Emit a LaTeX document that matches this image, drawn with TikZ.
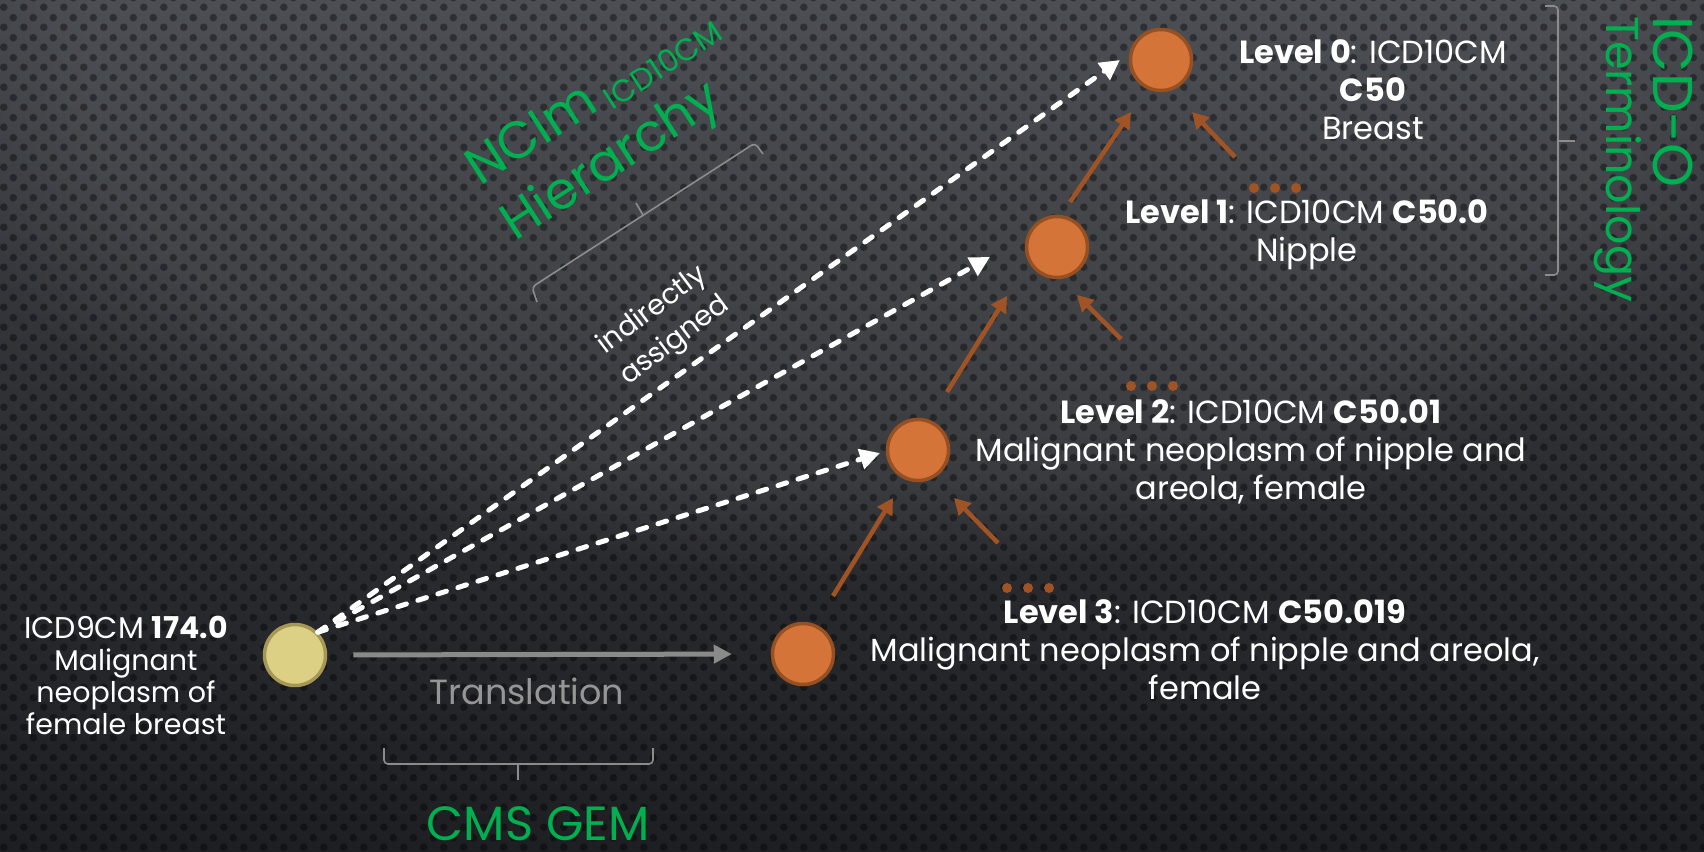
\documentclass[tikz,border=0pt]{standalone}
\usepackage{fontspec}
\setmainfont{Poppins}
\usetikzlibrary{arrows.meta,patterns,fadings}
\definecolor{bgtop}{RGB}{62,65,70}
\definecolor{bgbot}{RGB}{30,31,34}
\definecolor{orfill}{RGB}{212,116,56}
\definecolor{ordraw}{RGB}{150,80,34}
\definecolor{brarrow}{RGB}{160,84,38}
\definecolor{yelfill}{RGB}{220,208,132}
\definecolor{yeldraw}{RGB}{165,151,86}
\definecolor{gmgreen}{RGB}{0,176,80}
\definecolor{arrgray}{RGB}{138,138,138}
\definecolor{brgray}{RGB}{140,140,140}
\definecolor{txtgray}{RGB}{150,150,150}
\pgfdeclarepatternformonly{holes}{\pgfqpoint{0pt}{0pt}}{\pgfqpoint{20pt}{20pt}}{\pgfqpoint{20pt}{20pt}}{%
  \pgfpathcircle{\pgfqpoint{5pt}{5pt}}{4pt}%
  \pgfpathcircle{\pgfqpoint{15pt}{15pt}}{4pt}%
  \pgfusepath{fill}}
\begin{document}
\begin{tikzpicture}[x=1pt,y=-1pt,
  concept/.style={circle, fill=orfill, draw=ordraw, line width=3.5pt, minimum size=61pt, inner sep=0pt},
  source/.style={circle, fill=yelfill, draw=yeldraw, line width=3.5pt, minimum size=61pt, inner sep=0pt},
  lbl/.style={text=white, align=center, inner sep=0pt, font=\fontsize{32}{38}\selectfont},
  brownarrow/.style={draw=brarrow, line width=4.5pt, -{Triangle[length=16pt,width=17pt]}},
  dasharrow/.style={draw=white, line width=5pt, dash pattern=on 9pt off 12pt, line cap=round, -{Triangle[length=20pt,width=20pt,fill=white]}},
  grayarrow/.style={draw=arrgray, line width=5pt, -{Triangle[length=18pt,width=18pt]}},
  bracket/.style={draw=brgray, line width=1.6pt, rounded corners=4pt},
  greentxt/.style={text=gmgreen, inner sep=0pt},
  dotmark/.style={fill=brarrow}
]
% background
\useasboundingbox (0,0) rectangle (1704,851);
\shade[top color=bgtop, bottom color=bgbot] (0,0) rectangle (1704,851);
\fill[white, fill opacity=0.07, path fading=circle with fuzzy edge 20 percent] (850,60) ellipse [x radius=950, y radius=520];
\fill[pattern=holes, pattern color=black, fill opacity=0.38] (0,0) rectangle (1704,851);

% concept nodes
\node[source] (Y) at (295,655) {};
\node[concept] (L3) at (803,654) {};
\node[concept] (L2) at (918,450) {};
\node[concept] (L1) at (1057,247) {};
\node[concept] (L0) at (1161,60) {};

% dots (other children)
\coordinate (d1) at (1275,188);
\coordinate (d2) at (1152,386);
\coordinate (d3) at (1028,588);
\foreach \c in {d1,d2,d3}{
  \foreach \dx in {-21,0,21}{
    \fill[dotmark] ([shift={(\dx,0)}]\c) circle (5pt);
  }
}

% labels
\node[lbl, anchor=north] (T0) at (1373,39) {\textbf{Level 0}: ICD10CM\\\textbf{C50}\\Breast};
\node[lbl, anchor=north] (T1) at (1307,199) {\textbf{Level 1}: ICD10CM \textbf{C50.0}\\Nipple};
\node[lbl, anchor=north] (T2) at (1251,399) {\textbf{Level 2}: ICD10CM \textbf{C50.01}\\Malignant neoplasm of nipple and\\areola, female};
\node[lbl, anchor=north] (T3) at (1205,599) {\textbf{Level 3}: ICD10CM \textbf{C50.019}\\Malignant neoplasm of nipple and areola,\\female};
\node[lbl, anchor=north, font=\fontsize{28.5}{32}\selectfont] (TY) at (126,616) {{\fontsize{30}{32}\selectfont ICD9CM \textbf{174.0}}\\Malignant\\neoplasm of\\female breast};

% hierarchy arrows
\draw[brownarrow] ([shift={(30,-58)}]L3.center) -- ([shift={(-25,48)}]L2.center);
\draw[brownarrow] ([shift={(-30,-45)}]d3) -- ([shift={(36,48)}]L2.center);
\draw[brownarrow] ([shift={(29,-58)}]L2.center) -- ([shift={(-50,49)}]L1.center);
\draw[brownarrow] ([shift={(-31,-47)}]d2) -- ([shift={(20,48)}]L1.center);
\draw[brownarrow] ([shift={(13,-45)}]L1.center) -- ([shift={(-30,52)}]L0.center);
\draw[brownarrow] ([shift={(-40,-31)}]d1) -- ([shift={(31,52)}]L0.center);

% indirect assignment arrows
\coordinate (t0) at ([shift={(-41,0)}]L0.center);
\coordinate (t1) at ([shift={(-67,10)}]L1.center);
\coordinate (t2) at ([shift={(-38,3)}]L2.center);
\draw[dasharrow] (Y.north east) -- (t0);
\draw[dasharrow] (Y.north east) -- (t1);
\draw[dasharrow] (Y.north east) -- (t2);

% translation
\draw[grayarrow, shorten <=26pt, shorten >=39pt] (Y.east) -- (L3.west);
\node[text=txtgray, inner sep=0pt, font=\fontsize{35}{40}\selectfont] (TR) at (527,691) {Translation};

% CMS GEM bracket
\draw[bracket] (384,748) -- (384,764) -- (653,764) -- (653,748);
\draw[draw=brgray, line width=1.6pt] (518,764) -- (518,780);
\node[greentxt, anchor=base, font=\fontsize{48}{52}\selectfont] (CMS) at (538,840) {CMS GEM};

% ICD-O bracket
\draw[bracket] (1545,6) -- (1558,6) -- (1558,275) -- (1545,275);
\draw[draw=brgray, line width=1.6pt] (1558,141) -- (1575,141);
\node[greentxt, rotate=-90, anchor=north west, align=left, font=\fontsize{46}{47}\selectfont] (ICDO) at (1693,16) {{\fontsize{56}{47}\selectfont ICD-O}\\Terminology};

% NCIm bracket
\draw[bracket] (537,302) -- (532,287) -- (755,143) -- (763,154);
\draw[draw=brgray, line width=1.6pt] (643,215) -- (636,203);
\node[greentxt, rotate=33, anchor=base west, font=\fontsize{52}{54}\selectfont] (NC1) at (480,187) {NCIm\hspace{10pt}\raisebox{-8pt}{\fontsize{31}{32}\selectfont ICD10CM}};
\node[greentxt, rotate=33, anchor=base west, font=\fontsize{52}{54}\selectfont] (NC2) at (515,242) {Hierarchy};

% indirectly assigned
\node[text=white, rotate=37, align=center, inner sep=0pt, font=\fontsize{28}{38}\selectfont] (IA) at (664,326) {indirectly\\assigned};
\end{tikzpicture}
\end{document}
